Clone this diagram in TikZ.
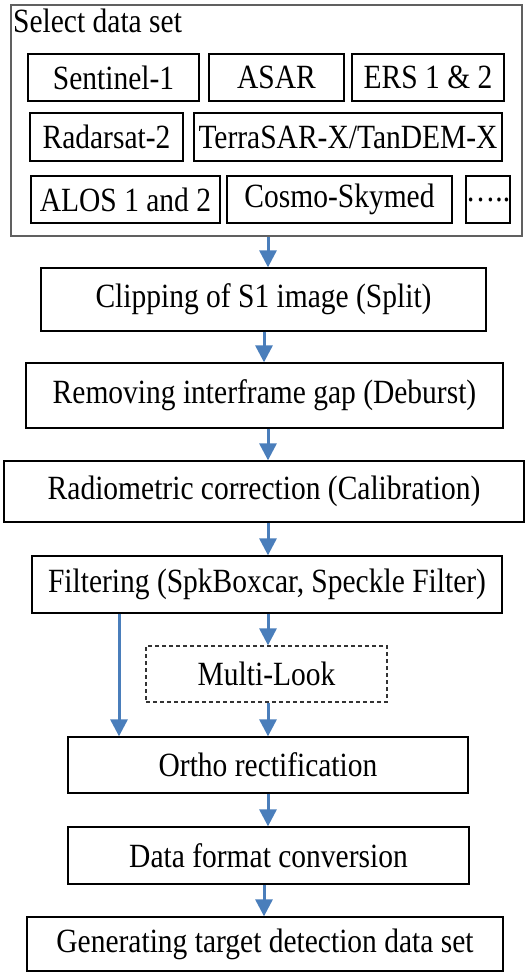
\documentclass[tikz,border=0pt]{standalone}
\usepackage{fontspec}
\setmainfont{Liberation Serif}
\usetikzlibrary{arrows.meta}
\definecolor{arrowblue}{HTML}{4A7EBB}
\definecolor{framegray}{HTML}{606060}
\newcommand{\tallt}[1]{\scalebox{1}[1.15]{#1}}
\begin{document}
\begin{tikzpicture}[x=1pt,y=-1pt,
  box/.style={draw=black, line width=1.3pt, rectangle, inner sep=0pt, font=\fontsize{29.5}{34}\selectfont, text=black},
  dashbox/.style={box, dash pattern=on 4pt off 3pt, draw=black!80},
  flow/.style={draw=arrowblue, line width=3pt, -{Triangle[length=17pt,width=17pt]}}]
\useasboundingbox (0,0) rectangle (527,973);

% outer selection box
\node[box, draw=framegray, minimum width=511pt, minimum height=231pt] (outer) at (266.5,120.5) {};
\node[font=\fontsize{29.5}{34}\selectfont, anchor=base west, inner sep=0pt] (title) at (13,33) {\tallt{Select data set}};

% data sets
\node[box, minimum width=171pt, minimum height=47pt] (s1) at (113.5,77.5) {\tallt{Sentinel-1}};
\node[box, minimum width=135pt, minimum height=47pt] (asar) at (276.5,77.5) {\tallt{ASAR}};
\node[box, minimum width=152pt, minimum height=47pt] (ers) at (428,77.5) {\tallt{ERS 1 \& 2}};
\node[box, minimum width=153pt, minimum height=48pt] (rs2) at (106.5,137) {\tallt{Radarsat-2}};
\node[box, minimum width=308pt, minimum height=48pt] (tsx) at (348,137) {\tallt{TerraSAR-X/TanDEM-X}};
\node[box, minimum width=189pt, minimum height=47pt] (alos) at (125.5,199.5) {\tallt{ALOS 1 and 2}};
\node[box, minimum width=225pt, minimum height=47pt] (csk) at (339.5,199.5) {\tallt{Cosmo-Skymed}};
\node[box, minimum width=44pt, minimum height=47pt] (more) at (488,199.5) {\tallt{…..}};

% process chain
\node[box, minimum width=445pt, minimum height=63pt] (clip) at (263.5,299.5) {\tallt{Clipping of S1 image (Split)}};
\node[box, minimum width=477pt, minimum height=65pt] (deb) at (264.5,395.5) {\tallt{Removing interframe gap (Deburst)}};
\node[box, minimum width=520pt, minimum height=61pt] (cal) at (264,491.5) {\tallt{Radiometric correction (Calibration)}};
\node[box, minimum width=470pt, minimum height=57pt] (filt) at (267,584.5) {\tallt{Filtering (SpkBoxcar, Speckle Filter)}};
\node[dashbox, minimum width=241pt, minimum height=56pt] (ml) at (266.5,674) {\tallt{Multi-Look}};
\node[box, minimum width=400pt, minimum height=56pt] (ortho) at (268,765) {\tallt{Ortho rectification}};
\node[box, minimum width=401pt, minimum height=57pt] (conv) at (268.5,855.5) {\tallt{Data format conversion}};
\node[box, minimum width=476pt, minimum height=54pt] (gen) at (265,944) {\tallt{Generating target detection data set}};

% arrow columns
\coordinate (ax) at (268,0);
\coordinate (bx) at (264,0);
\coordinate (lx) at (119,0);

\draw[flow] (outer.south -| ax) -- (clip.north -| ax);
\draw[flow] (clip.south -| bx) -- (deb.north -| bx);
\draw[flow] (deb.south -| ax) -- (cal.north -| ax);
\draw[flow] (cal.south -| ax) -- (filt.north -| ax);
\draw[flow] (filt.south -| ax) -- (ml.north -| ax);
\draw[flow] (filt.south -| lx) -- (ortho.north -| lx);
\draw[flow] (ml.south -| ax) -- (ortho.north -| ax);
\draw[flow] (ortho.south -| ax) -- (conv.north -| ax);
\draw[flow] (conv.south -| bx) -- (gen.north -| bx);
\end{tikzpicture}
\end{document}
